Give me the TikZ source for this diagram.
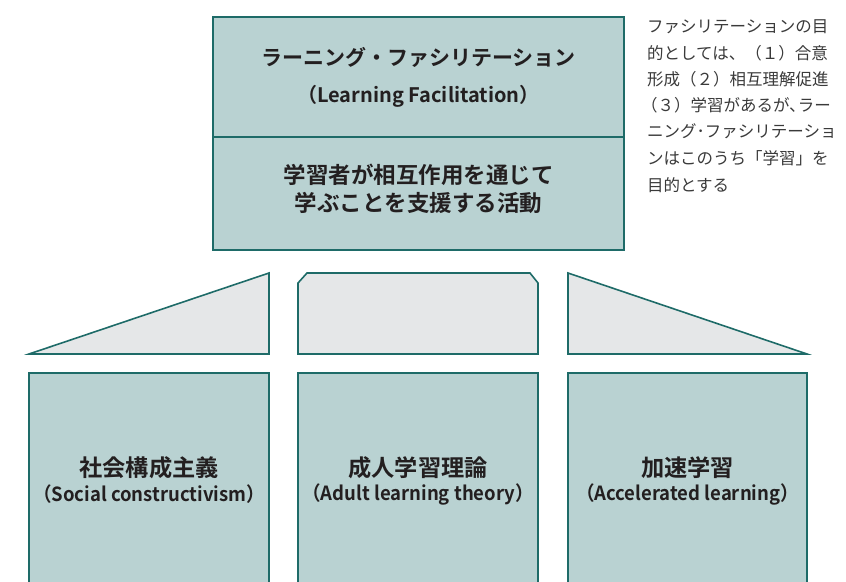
\documentclass[tikz,border=0pt]{standalone}
\usepackage{fontspec}
\setmainfont{Noto Sans CJK JP}[BoldFont={Noto Sans CJK JP Bold}]
\definecolor{boxfill}{HTML}{B9D2D2}
\definecolor{boxline}{HTML}{1E6B68}
\definecolor{trifill}{HTML}{E5E7E8}
\definecolor{txt}{HTML}{231F20}
\definecolor{note}{HTML}{3A3A3A}
\tikzset{
  mainbox/.style={fill=boxfill, draw=boxline, line width=1.8pt},
  roof/.style={fill=trifill, draw=boxline, line width=1.6pt, line join=miter},
  jtitle/.style={font=\bfseries\fontsize{21}{27}\selectfont, text=txt, align=center, inner sep=0pt},
  jbody/.style={font=\bfseries\fontsize{22.5}{28}\selectfont, text=txt, align=center, inner sep=0pt},
  jlabel/.style={font=\bfseries\fontsize{23.2}{28}\selectfont, text=txt, align=center, inner sep=0pt},
  etitle/.style={font=\bfseries\fontsize{20}{24}\selectfont, text=txt, inner sep=0pt},
  elabel/.style={font=\bfseries\fontsize{19.5}{24}\selectfont, text=txt, inner sep=0pt},
  notestyle/.style={font=\fontsize{16.5}{20}\selectfont, text=note, anchor=west, inner sep=0pt},
}
\begin{document}
\begin{tikzpicture}[x=1pt,y=-1pt]
\useasboundingbox (0,0) rectangle (846,581);
\clip (0,0) rectangle (846,581);
% top box
\draw[mainbox] (213,17) rectangle (624,250);
\draw[boxline, line width=1.8pt] (213,137) -- (624,137);
\node[jtitle] (t1) at (418.5,57) {ラーニング・ファシリテーション};
\node[etitle] (t2) at (418.5,96) {（Learning Facilitation）};
\node[jbody] (t3) at (418.5,189) {学習者が相互作用を通じて\\学ぶことを支援する活動};
% note
\node[notestyle] (n1) at (647,27) {ファシリテーションの目};
\node[notestyle] (n2) at (647,53) {的としては、（１）合意};
\node[notestyle] (n3) at (647,79) {形成（２）相互理解促進};
\node[notestyle] (n4) at (641,105) {（３）学習があるが､ラー};
\node[notestyle] (n5) at (647,131) {ニング･ファシリテーショ};
\node[notestyle] (n6) at (647,158) {ンはこのうち「学習」を};
\node[notestyle] (n7) at (647,185) {目的とする};
% roofs
\draw[roof] (29,354) -- (269,273) -- (269,354) -- cycle;
\draw[roof] (298,354) -- (298,283) -- (307,273) -- (530,273) -- (538,283) -- (538,354) -- cycle;
\draw[roof] (568,354) -- (568,273) -- (807,354) -- cycle;
% pillars
\draw[mainbox] (29,373) rectangle (269,600);
\draw[mainbox] (298,373) rectangle (538,600);
\draw[mainbox] (568,373) rectangle (807,600);
\node[jlabel] (p1) at (149,468) {社会構成主義};
\node[elabel] (p1e) at (149,494) {\scalebox{0.95}[1]{（Social constructivism）}};
\node[jlabel] (p2) at (418,468) {成人学習理論};
\node[elabel] (p2e) at (418,494) {\scalebox{0.95}[1]{（Adult learning theory）}};
\node[jlabel] (p3) at (687.5,468) {加速学習};
\node[elabel] (p3e) at (687.5,494) {\scalebox{0.95}[1]{（Accelerated learning）}};
\end{tikzpicture}
\end{document}
